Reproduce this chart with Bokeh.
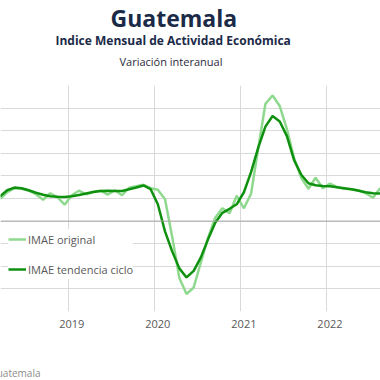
import pandas as pd
from bokeh.plotting import figure
from bokeh.layouts import column
from bokeh.models import (ColumnDataSource, Range1d, FixedTicker, Span, Label,
                          Legend, LegendItem)
from bokeh.embed import file_html
from bokeh.resources import INLINE

# ---- data (variación interanual, %), monthly from Mar 2018 ----
start_month = "2018-03"
imae_original = [2.47, 3.19, 3.64, 3.58, 3.36, 2.97, 2.36, 3.08, 2.64, 1.81,
                 2.86, 3.36, 2.97, 3.25, 3.36, 2.92, 3.41, 2.86, 3.69, 3.86,
                 4.02, 3.64, 3.47, 2.42, -1.72, -6.30, -8.06, -7.34, -4.57, -1.85,
                 0.37, 1.42, 0.86, 2.80, 1.42, 3.03, 8.03, 12.97, 13.89, 12.73,
                 10.18, 6.96, 4.80, 3.58, 4.80, 3.64, 4.14, 3.75, 3.58, 3.53,
                 3.41, 3.08, 2.58, 3.64]
imae_tendencia = [2.75, 3.41, 3.71, 3.64, 3.41, 3.14, 2.92, 2.75, 2.69, 2.67,
                  2.75, 2.88, 3.06, 3.21, 3.33, 3.36, 3.34, 3.33, 3.53, 3.71,
                  3.94, 3.53, 1.86, -1.13, -3.35, -5.23, -6.23, -5.51, -4.01, -2.02,
                  -0.19, 0.92, 1.36, 1.86, 3.19, 5.41, 8.13, 10.45, 11.62, 11.01,
                  9.40, 6.74, 5.13, 4.19, 3.97, 3.89, 3.86, 3.75, 3.64, 3.53,
                  3.36, 3.19, 3.08, 3.05]
year_labels = ["2019", "2020", "2021", "2022"]
y_grid_values = [-10, -7.5, -5, -2.5, 0, 2.5, 5, 7.5, 10, 12.5, 15]

periods = pd.period_range(start_month, periods=len(imae_original), freq="M")
base = pd.Period("2019-01", freq="M")
x_month = [(p_ - base).n for p_ in periods]

src = ColumnDataSource(dict(x=x_month, orig=imae_original, tend=imae_tendencia))

FONT = "Open Sans"
NAVY = "#1b2a47"


def text_strip(height):
    f = figure(width=380, height=height, output_backend="svg", toolbar_location=None,
               x_range=Range1d(0, 380), y_range=Range1d(height, 0),
               x_axis_type=None, y_axis_type=None,
               min_border_left=0, min_border_right=0, min_border_top=0,
               min_border_bottom=0)
    f.outline_line_color = None
    f.xgrid.visible = False
    f.ygrid.visible = False
    f.background_fill_color = "white"
    f.border_fill_color = "white"
    return f


# ---- title strip ----
top = text_strip(85)
top.add_layout(Label(x=110, y=17, text="Guatemala", text_font=FONT,
                     text_font_style="bold", text_font_size="23px",
                     text_color=NAVY, text_align="left",
                     text_baseline="alphabetic"))
top.add_layout(Label(x=55, y=39.5, text="Indice Mensual de  Actividad Económica",
                     text_font=FONT, text_font_style="bold",
                     text_font_size="12px", text_color=NAVY,
                     text_align="left", text_baseline="alphabetic"))
top.add_layout(Label(x=119, y=60.5, text="Variación interanual", text_font=FONT,
                     text_font_size="11px", text_color="#2b2b3b",
                     text_align="left", text_baseline="alphabetic"))

# ---- chart ----
p = figure(width=380, height=277, output_backend="svg", toolbar_location=None,
           x_range=Range1d(-9.94, 43.05), y_range=Range1d(-10, 15),
           min_border_left=0, min_border_right=0, min_border_top=0,
           min_border_bottom=51)
p.outline_line_color = None
p.background_fill_color = "white"
p.border_fill_color = "white"

p.yaxis.visible = False
year_pos = [12 * i for i in range(len(year_labels))]
p.xaxis.ticker = FixedTicker(ticks=year_pos)
p.xaxis.major_label_overrides = {pos: lab for pos, lab in zip(year_pos, year_labels)}
p.xaxis.axis_line_color = None
p.xaxis.major_tick_line_color = None
p.xaxis.minor_tick_line_color = None
p.xaxis.major_tick_out = 0
p.xaxis.major_tick_in = 0
p.xaxis.major_label_standoff = 8
p.xaxis.major_label_text_font = FONT
p.xaxis.major_label_text_font_size = "11px"
p.xaxis.major_label_text_color = "#595959"

p.xgrid.ticker = FixedTicker(ticks=[pos - 0.5 for pos in year_pos])
p.xgrid.grid_line_color = "#d9d9d9"
p.ygrid.ticker = FixedTicker(ticks=y_grid_values)
p.ygrid.grid_line_color = "#d9d9d9"

p.add_layout(Span(location=0, dimension="width", line_color="#a6a6a6", line_width=1))

r1 = p.line("x", "orig", source=src, line_color="#8fd98f", line_width=2.5)
r2 = p.line("x", "tend", source=src, line_color="#0f910f", line_width=2.5)

legend = Legend(items=[LegendItem(label="IMAE original", renderers=[r1]),
                       LegendItem(label="IMAE tendencia ciclo", renderers=[r2])],
                location=(8, 32), padding=6, spacing=10, glyph_width=18,
                glyph_height=20, label_height=20, label_standoff=2,
                label_text_font=FONT, label_text_font_size="11px",
                label_text_color="#595959", border_line_color=None,
                background_fill_color="white", background_fill_alpha=1.0)
p.add_layout(legend)

# ---- source strip ----
bottom = text_strip(18)
bottom.add_layout(Label(x=40, y=10, text="Fuente: Banco de Guatemala", text_font=FONT,
                        text_font_size="10px", text_color="#8c8c8c",
                        text_align="right", text_baseline="middle"))

layout = column(top, p, bottom, spacing=0)
open("out.html", "w").write(file_html(layout, INLINE))
